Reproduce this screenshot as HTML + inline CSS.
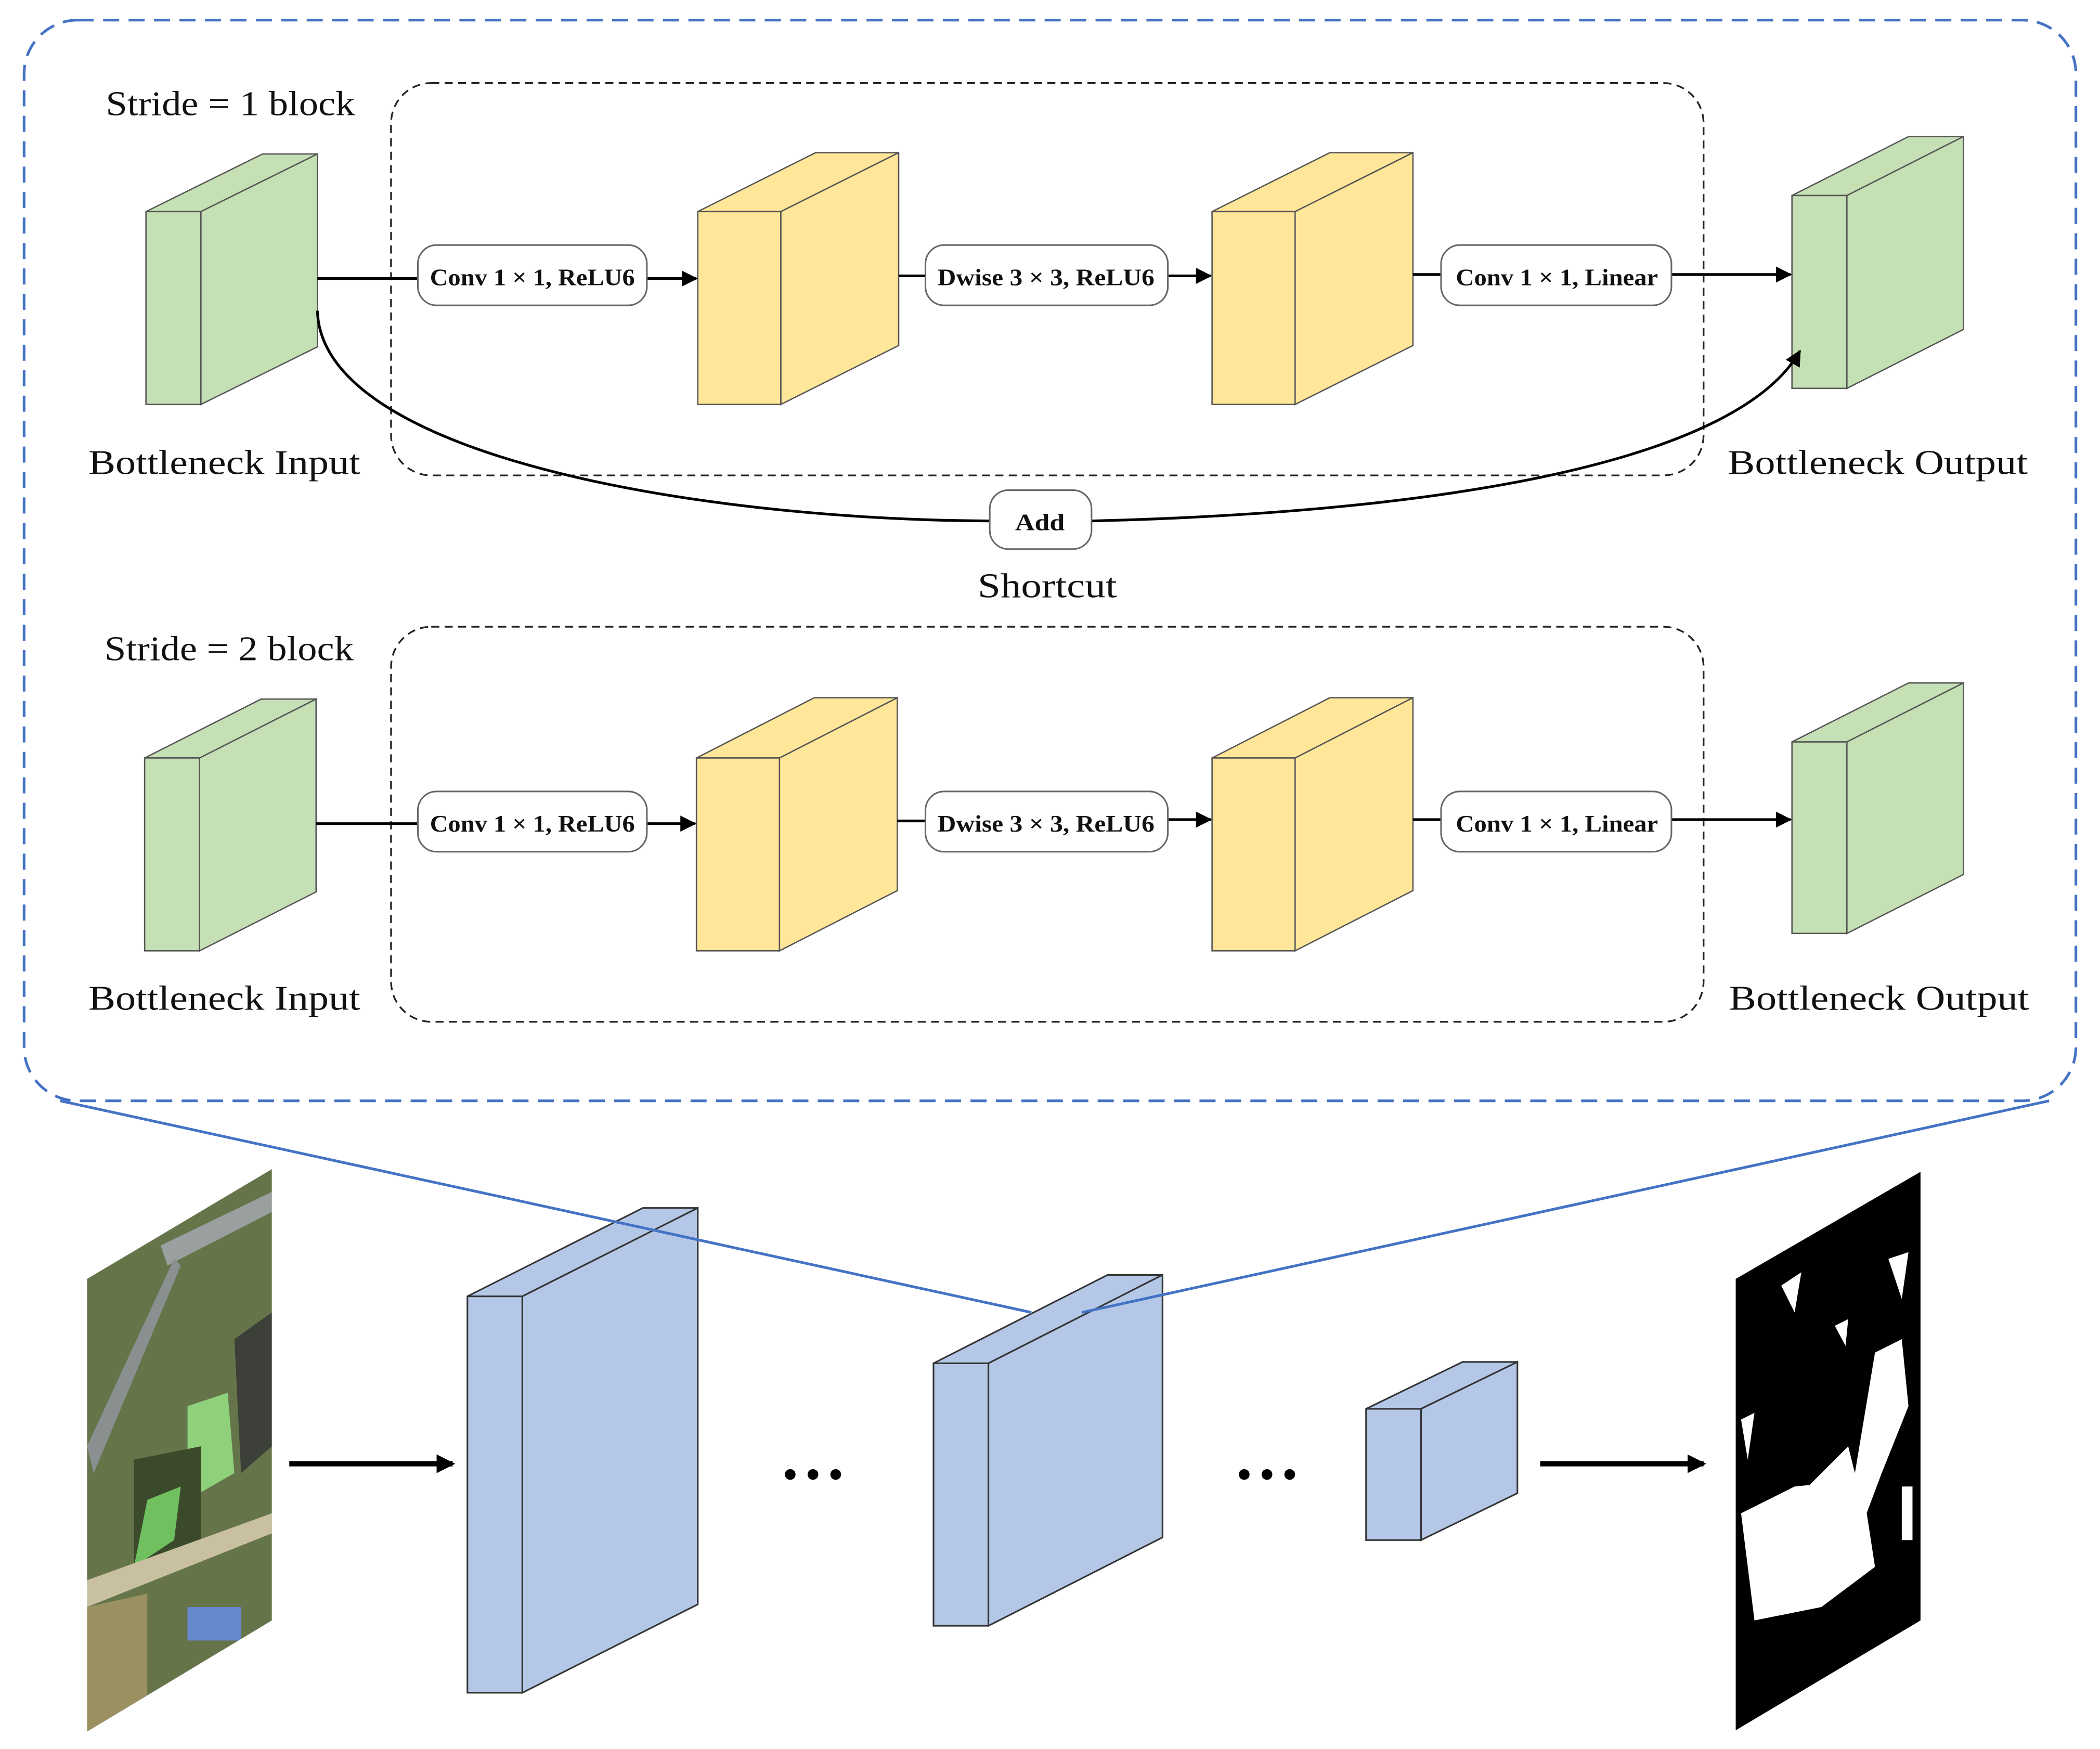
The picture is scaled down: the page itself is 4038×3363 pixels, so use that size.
<!DOCTYPE html>
<html><head><meta charset="utf-8"><style>
html,body{margin:0;padding:0;background:#fff;}
svg{display:block;}
text{font-family:"Liberation Serif",serif;}
.lb{font-size:26px;fill:#111;}
.bx{font-size:17.5px;font-weight:bold;fill:#111;}
</style></head><body>
<svg width="4038" height="3363" viewBox="0 0 1568 1306" preserveAspectRatio="none" xmlns="http://www.w3.org/2000/svg">
<defs>
<marker id="ar" markerWidth="12" markerHeight="12" refX="11" refY="6" orient="auto" markerUnits="userSpaceOnUse" viewBox="0 0 12 12"><path d="M0,0 L12,6 L0,12 z" fill="#000"/></marker>
<marker id="ar2" markerWidth="14" markerHeight="14" refX="12" refY="7" orient="auto" markerUnits="userSpaceOnUse" viewBox="0 0 14 14"><path d="M0,0 L14,7 L0,14 z" fill="#000"/></marker>
<clipPath id="sat"><polygon points="65,955 203,873 203,1210 65,1293"/></clipPath>
<clipPath id="msk"><polygon points="1296,955 1434,875 1434,1210 1296,1292"/></clipPath>
</defs>
<rect x="18" y="15" width="1532" height="807" rx="40" fill="none" stroke="#4472c4" stroke-width="2" stroke-dasharray="12,7"/>
<rect x="292" y="62" width="980" height="293" rx="30" fill="none" stroke="#222" stroke-width="1.3" stroke-dasharray="6,4"/>
<rect x="292" y="468" width="980" height="295" rx="30" fill="none" stroke="#222" stroke-width="1.3" stroke-dasharray="6,4"/>

<g stroke="#555" stroke-width="1">
<polygon points="109,158 196,115 237,115 150,158" fill="#c5e0b4"/>
<polygon points="150,158 237,115 237,259 150,302" fill="#c5e0b4"/>
<rect x="109" y="158" width="41" height="144" fill="#c5e0b4"/>
<polygon points="521,158 609,114 671,114 583,158" fill="#ffe699"/>
<polygon points="583,158 671,114 671,258 583,302" fill="#ffe699"/>
<rect x="521" y="158" width="62" height="144" fill="#ffe699"/>
<polygon points="905,158 993,114 1055,114 967,158" fill="#ffe699"/>
<polygon points="967,158 1055,114 1055,258 967,302" fill="#ffe699"/>
<rect x="905" y="158" width="62" height="144" fill="#ffe699"/>
<polygon points="1338,146 1425,102 1466,102 1379,146" fill="#c5e0b4"/>
<polygon points="1379,146 1466,102 1466,246 1379,290" fill="#c5e0b4"/>
<rect x="1338" y="146" width="41" height="144" fill="#c5e0b4"/>
<polygon points="108,566 195,522 236,522 149,566" fill="#c5e0b4"/>
<polygon points="149,566 236,522 236,666 149,710" fill="#c5e0b4"/>
<rect x="108" y="566" width="41" height="144" fill="#c5e0b4"/>
<polygon points="520,566 608,521 670,521 582,566" fill="#ffe699"/>
<polygon points="582,566 670,521 670,665 582,710" fill="#ffe699"/>
<rect x="520" y="566" width="62" height="144" fill="#ffe699"/>
<polygon points="905,566 993,521 1055,521 967,566" fill="#ffe699"/>
<polygon points="967,566 1055,521 1055,665 967,710" fill="#ffe699"/>
<rect x="905" y="566" width="62" height="144" fill="#ffe699"/>
<polygon points="1338,554 1425,510 1466,510 1379,554" fill="#c5e0b4"/>
<polygon points="1379,554 1466,510 1466,653 1379,697" fill="#c5e0b4"/>
<rect x="1338" y="554" width="41" height="143" fill="#c5e0b4"/>
</g>

<g stroke="#000" stroke-width="2" fill="none">
<line x1="237" y1="208" x2="312" y2="208"/>
<line x1="483" y1="208" x2="520" y2="208" marker-end="url(#ar)"/>
<line x1="671" y1="206" x2="691" y2="206"/>
<line x1="872" y1="206" x2="904" y2="206" marker-end="url(#ar)"/>
<line x1="1055" y1="205" x2="1076" y2="205"/>
<line x1="1248" y1="205" x2="1337" y2="205" marker-end="url(#ar)"/>
<path d="M237,232 C240,340 520,388 739,389"/>
<path d="M815,389 C1100,382 1300,340 1344,262" marker-end="url(#ar)"/>
<line x1="236" y1="615" x2="312" y2="615"/>
<line x1="483" y1="615" x2="519" y2="615" marker-end="url(#ar)"/>
<line x1="670" y1="613" x2="691" y2="613"/>
<line x1="872" y1="612" x2="904" y2="612" marker-end="url(#ar)"/>
<line x1="1055" y1="612" x2="1076" y2="612"/>
<line x1="1248" y1="612" x2="1337" y2="612" marker-end="url(#ar)"/>
</g>
<g fill="#fff" stroke="#666" stroke-width="1.2">
<rect x="312" y="183" width="171" height="45" rx="14"/>
<rect x="691" y="183" width="181" height="45" rx="14"/>
<rect x="1076" y="183" width="172" height="45" rx="14"/>
<rect x="739" y="366" width="76" height="44" rx="14"/>
<rect x="312" y="591" width="171" height="45" rx="14"/>
<rect x="691" y="591" width="181" height="45" rx="14"/>
<rect x="1076" y="591" width="172" height="45" rx="14"/>
</g>
<g class="bx">
<text x="321" y="213" textLength="153" lengthAdjust="spacingAndGlyphs">Conv 1 × 1, ReLU6</text>
<text x="700" y="213" textLength="162" lengthAdjust="spacingAndGlyphs">Dwise 3 × 3, ReLU6</text>
<text x="1087" y="213" textLength="151" lengthAdjust="spacingAndGlyphs">Conv 1 × 1, Linear</text>
<text x="758" y="396" textLength="37" lengthAdjust="spacingAndGlyphs">Add</text>
<text x="321" y="621" textLength="153" lengthAdjust="spacingAndGlyphs">Conv 1 × 1, ReLU6</text>
<text x="700" y="621" textLength="162" lengthAdjust="spacingAndGlyphs">Dwise 3 × 3, ReLU6</text>
<text x="1087" y="621" textLength="151" lengthAdjust="spacingAndGlyphs">Conv 1 × 1, Linear</text>
</g>
<g class="lb">
<text x="79" y="86" textLength="186" lengthAdjust="spacingAndGlyphs">Stride = 1 block</text>
<text x="66" y="354" textLength="203" lengthAdjust="spacingAndGlyphs">Bottleneck Input</text>
<text x="1290" y="354" textLength="224" lengthAdjust="spacingAndGlyphs">Bottleneck Output</text>
<text x="730" y="446" textLength="104" lengthAdjust="spacingAndGlyphs">Shortcut</text>
<text x="78" y="493" textLength="186" lengthAdjust="spacingAndGlyphs">Stride = 2 block</text>
<text x="66" y="754" textLength="203" lengthAdjust="spacingAndGlyphs">Bottleneck Input</text>
<text x="1291" y="754" textLength="224" lengthAdjust="spacingAndGlyphs">Bottleneck Output</text>
</g>

<g clip-path="url(#sat)">
<rect x="60" y="860" width="150" height="440" fill="#66744a"/>
<polygon points="140,1050 170,1040 175,1100 140,1120" fill="#8fd07a"/>
<polygon points="100,1090 150,1080 150,1160 100,1170" fill="#3a4a2a"/>
<polygon points="110,1120 135,1110 130,1150 100,1170" fill="#70c060"/>
<polygon points="175,1000 203,980 203,1080 180,1100" fill="#3c4038"/>
<polygon points="120,930 203,890 203,905 125,945" fill="#9aa0a0"/>
<polygon points="65,1180 203,1130 203,1145 65,1200" fill="#c8c0a0"/>
<rect x="140" y="1200" width="40" height="25" fill="#6688cc"/>
<polygon points="65,1080 130,940 135,945 70,1100" fill="#8a9090"/>
<polygon points="65,1200 110,1190 110,1293 65,1293" fill="#9a9060"/>
</g>
<g stroke="#000" stroke-width="4" fill="none">
<line x1="216" y1="1093" x2="338" y2="1093" marker-end="url(#ar2)"/>
<line x1="1150" y1="1093" x2="1272" y2="1093" marker-end="url(#ar2)"/>
</g>
<g stroke="#333" stroke-width="1.2" fill="#b4c7e7">
<polygon points="349,968 480,902 521,902 390,968"/>
<polygon points="390,968 521,902 521,1198 390,1264"/>
<rect x="349" y="968" width="41" height="296"/>
<polygon points="697,1018 827,952 868,952 738,1018"/>
<polygon points="738,1018 868,952 868,1148 738,1214"/>
<rect x="697" y="1018" width="41" height="196"/>
<polygon points="1020,1052 1092,1017 1133,1017 1061,1052"/>
<polygon points="1061,1052 1133,1017 1133,1115 1061,1150"/>
<rect x="1020" y="1052" width="41" height="98"/>
</g>
<g fill="#000">
<circle cx="590" cy="1101" r="4"/><circle cx="607" cy="1101" r="4"/><circle cx="624" cy="1101" r="4"/>
<circle cx="929" cy="1101" r="4"/><circle cx="946" cy="1101" r="4"/><circle cx="963" cy="1101" r="4"/>
</g>
<line x1="45" y1="822" x2="770" y2="980" stroke="#4472c4" stroke-width="2"/>
<line x1="1530" y1="822" x2="808" y2="980" stroke="#4472c4" stroke-width="2"/>
<g clip-path="url(#msk)">
<rect x="1290" y="870" width="150" height="430" fill="#000"/>
<g fill="#fff">
<polygon points="1300,1130 1340,1110 1390,1105 1400,1170 1360,1200 1310,1210"/>
<polygon points="1350,1110 1380,1080 1390,1120"/>
<polygon points="1400,1010 1420,1000 1425,1050 1405,1100 1390,1140 1385,1100"/>
<polygon points="1410,940 1425,935 1420,970"/>
<polygon points="1300,1060 1310,1055 1305,1090"/>
<polygon points="1330,960 1345,950 1340,980"/>
<polygon points="1370,990 1380,985 1378,1005"/>
<rect x="1420" y="1110" width="8" height="40"/>
</g>
</g>
</svg>
</body></html>
